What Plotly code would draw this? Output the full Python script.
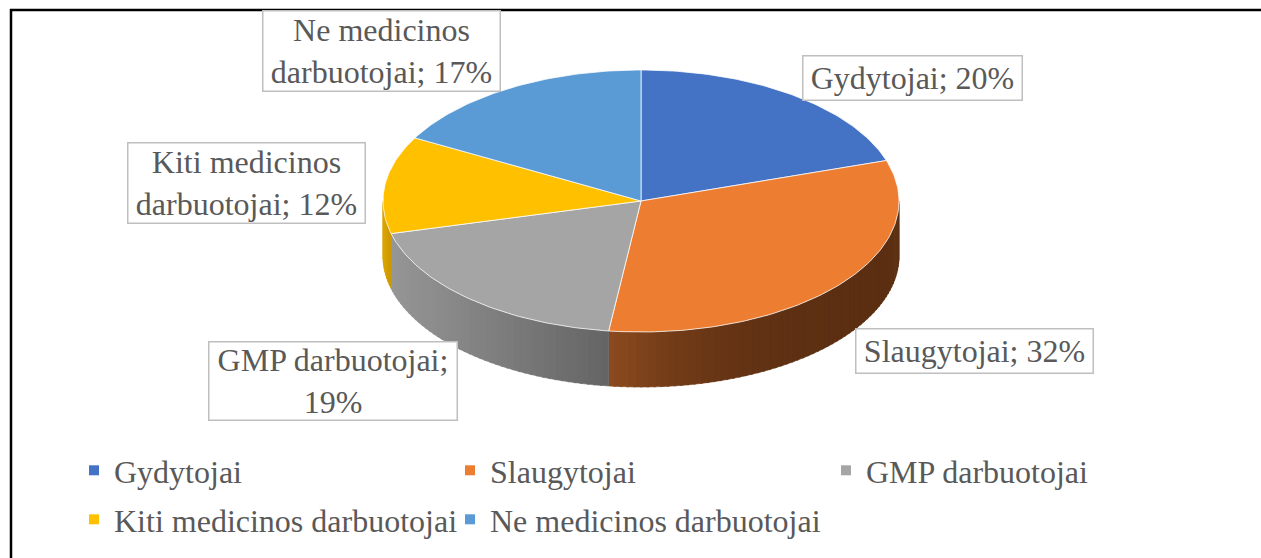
import math
import textwrap
import plotly.graph_objects as go

# ---------------- data ----------------
categories = ["Gydytojai", "Slaugytojai", "GMP darbuotojai",
              "Kiti medicinos darbuotojai", "Ne medicinos darbuotojai"]
shares = [20, 32, 19, 12, 17]

# ---------------- style ----------------
top_colors = ["#4472C4", "#ED7D31", "#A5A5A5", "#FFC000", "#5B9BD5"]
side_light = ["#2F5597", "#8C4B1F", "#969696", "#DBA400", "#41719C"]
side_dark = ["#2F5597", "#5C2F12", "#646464", "#C99700", "#41719C"]
side_gamma = [1.0, 3.0, 1.0, 1.0, 1.0]
legend_row = ["legend", "legend", "legend", "legend2", "legend2"]

# label box centres / sizes (px)
label_boxes = [(912, 77.5, 218, 43), (974, 351, 236, 43), (332.5, 380.5, 247, 77),
               (246, 182.5, 236, 79), (381, 51, 236, 79)]

W, H = 1261, 558
CX, CY, RX, RY, DEPTH = 641, 201, 258, 131, 55
FONT = "Liberation Serif"
TXT = "#595959"


def pt(theta_deg, dy=0.0):
    t = math.radians(theta_deg)
    return CX + RX * math.sin(t), CY - RY * math.cos(t) + dy


def hex2rgb(h):
    h = h.lstrip("#")
    return tuple(int(h[i:i + 2], 16) for i in (0, 2, 4))


def mix(c1, c2, t):
    a, b = hex2rgb(c1), hex2rgb(c2)
    return "rgb(%d,%d,%d)" % tuple(round(a[i] + (b[i] - a[i]) * t) for i in range(3))


total = float(sum(shares))
bounds = []
acc = 0.0
for v in shares:
    a0 = acc / total * 360.0
    acc += v
    bounds.append((a0, acc / total * 360.0))

fig = go.Figure()

# ---- side faces (front half only: 90..270 deg) ----
for i, (a0, a1) in enumerate(bounds):
    s0, s1 = max(a0, 90.0), min(a1, 270.0)
    if s1 <= s0:
        continue
    xl, xr = pt(s1)[0], pt(s0)[0]
    n = max(1, int(math.ceil((s1 - s0) / 1.5)))
    for k in range(n):
        t0 = s0 + (s1 - s0) * k / n
        t1 = min(s1, s0 + (s1 - s0) * (k + 1.3) / n)
        angs = [t0, (t0 + t1) / 2, t1]
        top = [pt(a) for a in angs]
        bot = [pt(a, DEPTH) for a in reversed(angs)]
        xs = [p[0] for p in top + bot] + [top[0][0]]
        ys = [p[1] for p in top + bot] + [top[0][1]]
        xm = pt((t0 + t1) / 2)[0]
        frac = (xr - xm) / (xr - xl) if xr > xl else 0.0
        frac = min(max(frac, 0.0), 1.0)
        c = mix(side_dark[i], side_light[i], frac ** side_gamma[i])
        fig.add_trace(go.Scatter(x=xs, y=ys, mode="lines", fill="toself",
                                 fillcolor=c, line=dict(color=c, width=0.6),
                                 hoverinfo="skip", showlegend=False))

# ---- top faces ----
for i, (a0, a1) in enumerate(bounds):
    n = max(2, int(math.ceil((a1 - a0) / 1.0)))
    arc = [pt(a0 + (a1 - a0) * k / n) for k in range(n + 1)]
    xs = [CX] + [p[0] for p in arc] + [CX]
    ys = [CY] + [p[1] for p in arc] + [CY]
    fig.add_trace(go.Scatter(x=xs, y=ys, mode="lines", fill="toself",
                             fillcolor=top_colors[i],
                             line=dict(color="rgba(255,255,255,0.75)", width=1),
                             name=categories[i], hoverinfo="name",
                             showlegend=False))

# ---- legend entries ----
for i, cat in enumerate(categories):
    fig.add_trace(go.Scatter(x=[None], y=[None], mode="markers", name=cat,
                             marker=dict(symbol="square", size=10, color=top_colors[i]),
                             showlegend=True, legend=legend_row[i]))

# ---- data labels ----
annotations = []
for i, cat in enumerate(categories):
    txt = "<br>".join(textwrap.wrap(f"{cat}; {shares[i]}%", width=16))
    bx, by, bw, bh = label_boxes[i]
    annotations.append(dict(x=bx, y=by, xref="x", yref="y", text=txt, showarrow=False,
                            font=dict(family=FONT, size=32, color=TXT),
                            bgcolor="white", bordercolor="#BFBFBF", borderwidth=1.5,
                            borderpad=0, width=bw, height=bh, align="center",
                            valign="middle"))

shapes = [
    dict(type="line", xref="x", yref="y", x0=10, x1=W, y0=10, y1=10,
         line=dict(color="black", width=2.5)),
    dict(type="line", xref="x", yref="y", x0=11, x1=11, y0=9, y1=H,
         line=dict(color="black", width=2.5)),
]

legend_common = dict(orientation="h", x=74 / W, xanchor="left", yanchor="top",
                     entrywidth=331, entrywidthmode="pixels", itemwidth=30,
                     traceorder="normal", bgcolor="rgba(0,0,0,0)",
                     font=dict(family=FONT, size=32, color=TXT))

fig.update_layout(
    width=W, height=H, margin=dict(l=0, r=0, t=0, b=0),
    paper_bgcolor="white", plot_bgcolor="white",
    xaxis=dict(range=[0, W], visible=False, fixedrange=True),
    yaxis=dict(range=[H, 0], visible=False, fixedrange=True),
    annotations=annotations, shapes=shapes,
    legend=dict(y=1 - 443 / H, **legend_common),
    legend2=dict(y=1 - 492 / H, **legend_common),
    hovermode="closest",
)

fig.write_html("out.html", config={"displayModeBar": False},
               post_script="document.body.style.margin='0';")
